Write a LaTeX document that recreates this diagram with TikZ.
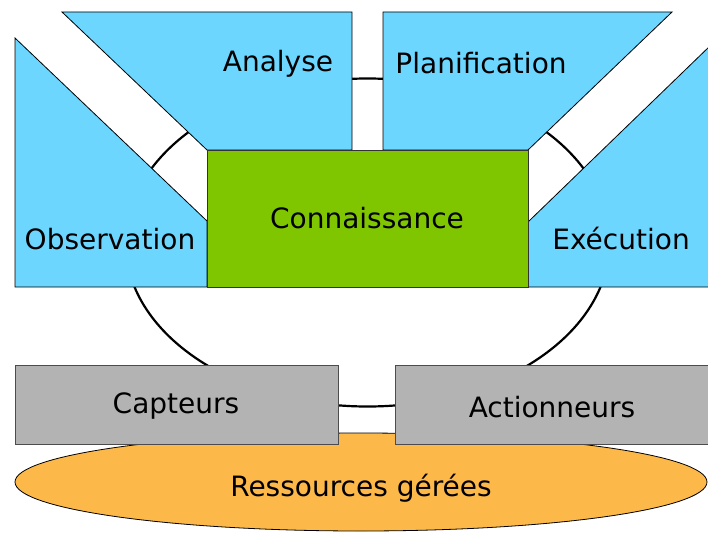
\documentclass[tikz,border=0pt]{standalone}
\usepackage{fontspec}
\setmainfont{DejaVu Sans}
\usetikzlibrary{shapes.geometric}
\definecolor{bleu}{HTML}{6CD6FF}
\definecolor{vert}{HTML}{80C600}
\definecolor{gris}{HTML}{B3B3B3}
\definecolor{orangeres}{HTML}{FDB84A}
\tikzset{
phase/.style={draw=black, fill=bleu, line width=0.8pt},
etiquette/.style={font=\fontsize{28}{33}\selectfont, anchor=base, inner sep=0pt},
organe/.style={draw=black!70, fill=gris, line width=0.8pt, minimum height=79pt, inner sep=0pt},
boucle/.style={line width=2.2pt}
}
\begin{document}
\begin{tikzpicture}[x=1pt,y=-1pt]
\useasboundingbox (0,0) rectangle (708,532);
\draw[boucle] (367.5,242.5) ellipse [x radius=242pt, y radius=164pt];
\draw[phase] (15,38) -- (207,221) -- (207,287) -- (15,287) -- cycle;
\draw[phase] (62,12) -- (352,12) -- (352,150) -- (207,150) -- cycle;
\draw[phase] (383,12) -- (672,12) -- (528,150) -- (383,150) -- cycle;
\draw[phase] (712,44) -- (528,222) -- (528,287) -- (712,287) -- cycle;
\node[draw=black!80, fill=vert, line width=0.8pt, minimum width=321pt, minimum height=137pt, inner sep=0pt] (connaissance) at (367.5,218.5) {};
\node[etiquette] (connaissancetexte) at (367,228) {Connaissance};
\node[etiquette] (observation) at (110,249) {Observation};
\node[etiquette] (analyse) at (278,72) {Analyse};
\node[etiquette] (planification) at (481,74) {Planification};
\node[etiquette] (execution) at (621,249) {Exécution};
\node[ellipse, draw=black, fill=orangeres, line width=0.8pt, minimum width=692pt, minimum height=98pt, inner sep=0pt] (ressources) at (361,482) {};
\node[etiquette] (ressourcestexte) at (361,496) {Ressources gérées};
\node[organe, minimum width=323pt] (capteurs) at (176.5,404.5) {};
\node[organe, minimum width=315pt] (actionneurs) at (552.5,404.5) {};
\node[etiquette] (capteurstexte) at (176,413) {Capteurs};
\node[etiquette] (actionneurstexte) at (552,417) {Actionneurs};
\end{tikzpicture}
\end{document}
